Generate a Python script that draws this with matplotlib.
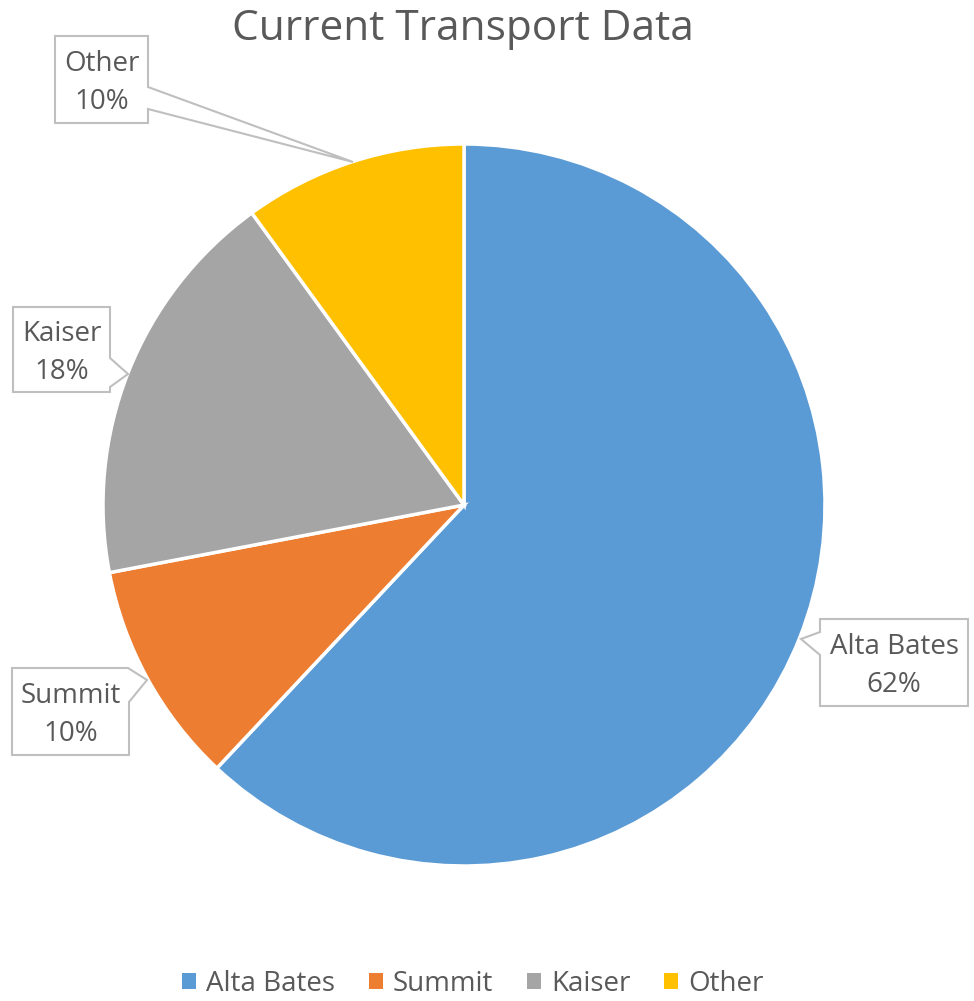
import matplotlib
matplotlib.use("Agg")
import matplotlib.pyplot as plt
from matplotlib.patches import Polygon

categories = ["Alta Bates", "Summit", "Kaiser", "Other"]
values = [62, 10, 18, 10]
colors = ["#5B9BD5", "#ED7D31", "#A5A5A5", "#FFC000"]
title = "Current Transport Data"

W, H = 974, 1001
plt.rcParams['font.family'] = ['Open Sans', 'DejaVu Sans']
fig = plt.figure(figsize=(W / 100, H / 100), dpi=100)
ax = fig.add_axes([0, 0, 1, 1])
ax.set_xlim(0, W)
ax.set_ylim(0, H)
ax.axis('off')

def Y(y):
    return H - y

cx, cy, r = 464, 505, 361
wedges, _ = ax.pie(values, colors=colors, startangle=90, counterclock=False,
                   center=(cx, Y(cy)), radius=r,
                   wedgeprops=dict(edgecolor='white', linewidth=2.5))
ax.set_xlim(0, W)
ax.set_ylim(0, H)
ax.set_aspect('auto')

txt_color = "#595959"
box_color = "#BFBFBF"

# callout shapes (pixel coords): box polygon incl. pointer
callouts = {
    "Other": [(55, 36), (148, 36), (148, 87), (353, 162), (148, 109), (148, 123), (55, 123)],
    "Kaiser": [(13, 307), (110, 307), (110, 358), (128, 374), (110, 387), (110, 392), (13, 392)],
    "Summit": [(12, 668), (128, 668), (147, 680), (129, 702), (129, 755), (12, 755)],
    "Alta Bates": [(820, 619), (968, 619), (968, 706), (820, 706), (820, 655), (801, 639), (820, 632)],
}
centers = {
    "Other": (101.5, 83),
    "Kaiser": (61.5, 353),
    "Summit": (70.5, 715),
    "Alta Bates": (894, 666),
}
for name, val in zip(categories, values):
    pts = [(x, Y(y)) for x, y in callouts[name]]
    ax.add_patch(Polygon(pts, closed=True, facecolor='white', edgecolor=box_color,
                         linewidth=1.5, zorder=3))
    x, y = centers[name]
    ax.text(x, Y(y), f"{name}\n{val}%", ha='center', va='center', fontsize=20,
            color=txt_color, linespacing=1.48, zorder=4)

ax.text(463, Y(29), title, ha='center', va='center', fontsize=30.5, color=txt_color)

leg = ax.legend(wedges, categories, loc='center', bbox_to_anchor=(473 / W, 1 - 984 / H),
                ncol=4, frameon=False, fontsize=20, labelcolor=txt_color,
                handlelength=0.5, handleheight=0.5, handletextpad=0.36,
                columnspacing=1.22, borderpad=0)
for h in leg.legend_handles:
    h.set_edgecolor('none')

fig.savefig("out.png", dpi=100)
